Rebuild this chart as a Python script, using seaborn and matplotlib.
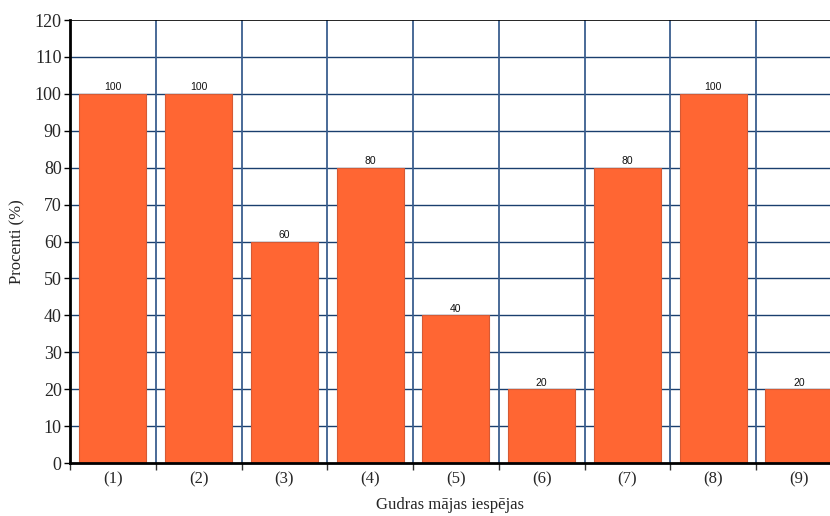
import matplotlib
matplotlib.use("Agg")
import matplotlib.pyplot as plt
import seaborn as sns
import pandas as pd

# Smart-home feature options and share of respondents (%)
categories = ["(1)", "(2)", "(3)", "(4)", "(5)", "(6)", "(7)", "(8)", "(9)"]
percent = [100, 100, 60, 80, 40, 20, 80, 100, 20]
y_ticks = list(range(0, 121, 10))

df = pd.DataFrame({"opt": categories, "pct": percent})

sns.set_theme(style="white")
plt.rcParams["font.family"] = ["Liberation Serif", "DejaVu Serif"]

W, H = 830, 516
fig = plt.figure(figsize=(W / 100, H / 100), dpi=100)
ax_w = 9 * 85.75
ax = fig.add_axes([70 / W, 53 / H, ax_w / W, 443 / H])

grid_col = "#1a3f6e"
bar_col = "#ff6633"

sns.barplot(data=df, x="opt", y="pct", color=bar_col, width=0.78,
            edgecolor="#d65a34", linewidth=0.8, saturation=1, ax=ax, zorder=3)

ax.set_ylim(0, 120)
ax.set_xlim(-0.5, len(categories) - 0.5)
ax.set_yticks(y_ticks)
ax.set_yticklabels([str(t) for t in y_ticks], fontsize=13)

# horizontal grid
for t in y_ticks[1:-1]:
    ax.axhline(t, color=grid_col, lw=1.0, zorder=1)
ax.axhline(120, color="black", lw=1.2, zorder=4)

# vertical separators between options
for i in range(len(categories) - 1):
    ax.axvline(i + 0.5, color="#3b5f8f", lw=1.3, zorder=1)

# ticks: labels at centers, tick marks at boundaries
ax.set_xticks(range(len(categories)))
ax.set_xticklabels(categories, fontsize=12)
ax.set_xticks([i - 0.5 for i in range(len(categories) + 1)], minor=True)
ax.tick_params(axis="x", which="major", length=0, pad=6)
ax.tick_params(axis="x", which="minor", length=5, width=1, color="#333333",
               direction="out", bottom=True)
ax.tick_params(axis="y", length=4, width=1, color="black", direction="out",
               left=True, pad=2)

for side in ("top", "right"):
    ax.spines[side].set_visible(False)
for side in ("left", "bottom"):
    ax.spines[side].set_color("black")
    ax.spines[side].set_linewidth(2)
    ax.spines[side].set_zorder(5)

for cont in ax.containers:
    ax.bar_label(cont, labels=[str(v) for v in percent], padding=1,
                 fontsize=7.5, family="Liberation Sans", color="#111111")

ax.set_xlabel("Gudras mājas iespējas", fontsize=12)
ax.set_ylabel("Procenti (%)", fontsize=12)
ax.xaxis.set_label_coords((450 - 70) / ax_w, -(497 - 463) / 443)
ax.yaxis.set_label_coords(-(70 - 25) / ax_w, 0.5)

fig.savefig("out.png", dpi=100)
